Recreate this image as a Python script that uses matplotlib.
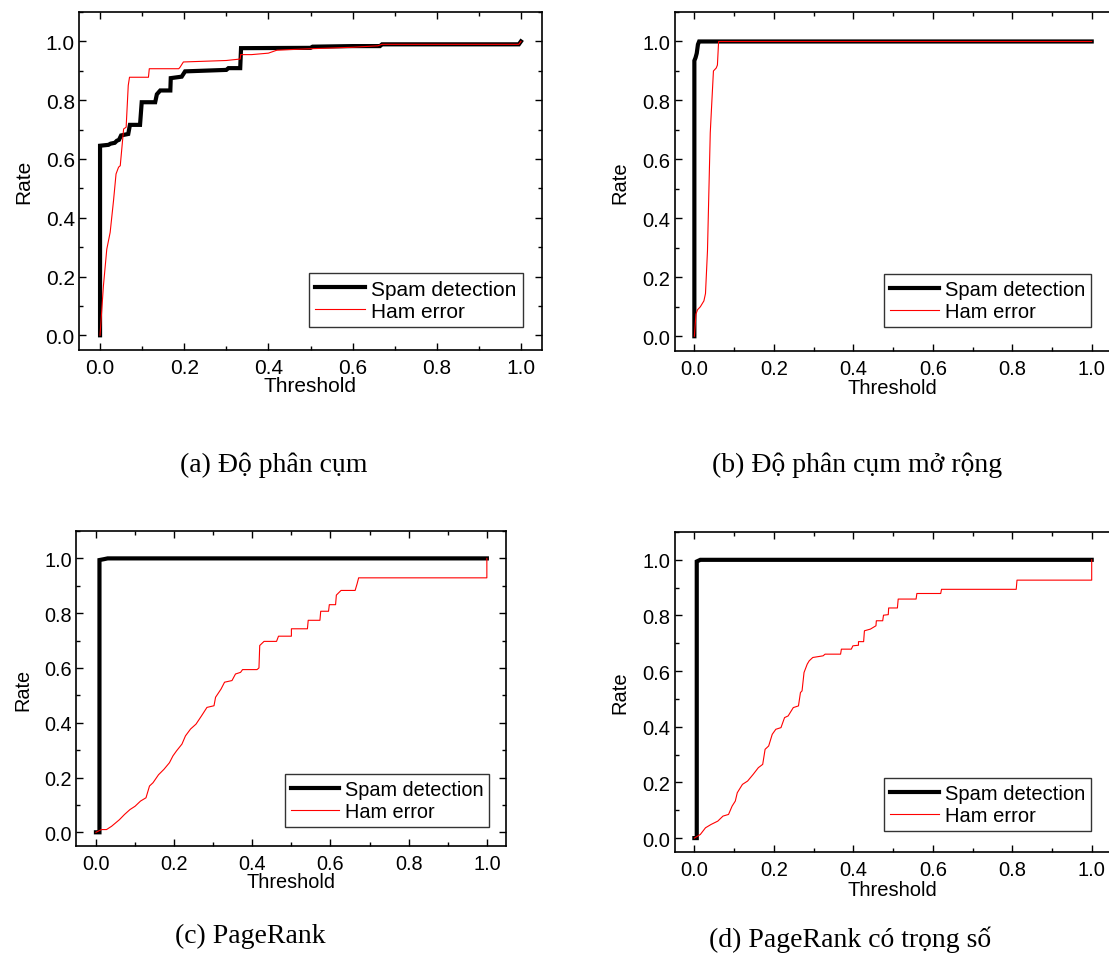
import numpy as np
import matplotlib
matplotlib.use('Agg')
import matplotlib.pyplot as plt
from matplotlib.ticker import MultipleLocator

plt.rcParams['font.family'] = ['Liberation Sans', 'DejaVu Sans']

# (a) Do phan cum
a_spam_x = [0.0, 0.0, 0.02, 0.025, 0.035, 0.04, 0.045, 0.05, 0.06, 0.067, 0.071, 0.095, 0.099, 0.131,
            0.135, 0.143, 0.167, 0.168, 0.194, 0.202, 0.30, 0.305, 0.333, 0.335, 0.5, 0.505, 0.6, 0.665,
            0.67, 0.995, 1.0]
a_spam_y = [0.0, 0.645, 0.648, 0.652, 0.655, 0.662, 0.665, 0.68, 0.683, 0.685, 0.716, 0.716, 0.793, 0.793,
            0.82, 0.833, 0.833, 0.875, 0.88, 0.898, 0.903, 0.909, 0.909, 0.977, 0.978, 0.982, 0.984, 0.984,
            0.99, 0.99, 1.0]
a_ham_x = [0.0, 0.008, 0.016, 0.024, 0.032, 0.038, 0.044, 0.048, 0.056, 0.062, 0.067, 0.07, 0.115, 0.117,
           0.187, 0.19, 0.198, 0.30, 0.333, 0.334, 0.36, 0.40, 0.42, 0.45, 0.5, 0.6, 0.66, 0.67, 0.995, 1.0]
a_ham_y = [0.0, 0.168, 0.293, 0.35, 0.458, 0.549, 0.572, 0.577, 0.702, 0.708, 0.85, 0.878, 0.878, 0.907,
           0.907, 0.912, 0.93, 0.935, 0.94, 0.955, 0.955, 0.96, 0.97, 0.972, 0.975, 0.98, 0.985, 0.99, 0.99, 1.0]

# (b) Do phan cum mo rong
b_spam_x = [0.0, 0.0, 0.003, 0.006, 0.009, 0.012, 1.0]
b_spam_y = [0.0, 0.935, 0.945, 0.96, 0.99, 1.0, 1.0]
b_ham_x = [0.0, 0.004, 0.008, 0.015, 0.024, 0.028, 0.033, 0.04, 0.043, 0.048, 0.055, 0.058, 0.061, 1.0]
b_ham_y = [0.0, 0.075, 0.09, 0.1, 0.12, 0.145, 0.29, 0.69, 0.77, 0.9, 0.91, 0.92, 1.0, 1.0]

# (c) PageRank
c_spam_x = [0.0, 0.009, 0.009, 0.02, 0.03, 1.0]
c_spam_y = [0.0, 0.0, 0.994, 0.997, 1.0, 1.0]
c_ham_x = [0.0, 0.014, 0.027, 0.04, 0.06, 0.073, 0.087, 0.1, 0.114, 0.128, 0.137, 0.146, 0.16, 0.174,
           0.188, 0.197, 0.206, 0.22, 0.229, 0.242, 0.256, 0.27, 0.284, 0.302, 0.306, 0.32, 0.329, 0.348,
           0.357, 0.37, 0.375, 0.412, 0.417, 0.419, 0.43, 0.462, 0.467, 0.5, 0.5, 0.541, 0.543, 0.573,
           0.575, 0.595, 0.597, 0.613, 0.615, 0.627, 0.663, 0.668, 0.672, 1.0, 1.0]
c_ham_y = [0.0, 0.01, 0.01, 0.022, 0.046, 0.065, 0.083, 0.095, 0.114, 0.126, 0.169, 0.181, 0.21, 0.23,
           0.254, 0.279, 0.297, 0.322, 0.352, 0.377, 0.395, 0.425, 0.456, 0.462, 0.493, 0.523, 0.548, 0.554,
           0.578, 0.584, 0.594, 0.594, 0.6, 0.682, 0.697, 0.697, 0.716, 0.716, 0.743, 0.743, 0.774, 0.774,
           0.807, 0.807, 0.831, 0.831, 0.866, 0.883, 0.883, 0.907, 0.929, 0.929, 1.0]

# (d) PageRank co trong so
d_spam_x = [0.0, 0.006, 0.006, 0.015, 1.0]
d_spam_y = [0.0, 0.0, 0.994, 1.0, 1.0]
d_ham_x = [0.0, 0.015, 0.028, 0.042, 0.059, 0.072, 0.086, 0.095, 0.103, 0.108, 0.121, 0.134, 0.148, 0.161,
           0.172, 0.178, 0.187, 0.196, 0.205, 0.218, 0.227, 0.236, 0.249, 0.262, 0.267, 0.271, 0.276, 0.284,
           0.289, 0.298, 0.324, 0.329, 0.368, 0.37, 0.395, 0.399, 0.413, 0.413, 0.426, 0.428, 0.443, 0.457,
           0.458, 0.474, 0.476, 0.488, 0.489, 0.511, 0.513, 0.558, 0.56, 0.62, 0.622, 0.81, 0.812, 1.0, 1.0]
d_ham_y = [0.0, 0.013, 0.037, 0.049, 0.061, 0.079, 0.085, 0.115, 0.133, 0.163, 0.193, 0.205, 0.229, 0.253,
           0.265, 0.319, 0.331, 0.373, 0.391, 0.397, 0.433, 0.439, 0.469, 0.475, 0.523, 0.529, 0.595, 0.625,
           0.637, 0.649, 0.655, 0.661, 0.661, 0.679, 0.679, 0.691, 0.693, 0.706, 0.706, 0.745, 0.751, 0.763,
           0.781, 0.781, 0.801, 0.803, 0.827, 0.827, 0.859, 0.859, 0.879, 0.879, 0.894, 0.894, 0.927, 0.927, 1.0]

# right-hand panels run off the page edge, so their x range is a bit wider
panels = [
    ([79/1109, 1-351/978, 463/1109, 338/978], 1.05, a_spam_x, a_spam_y, a_ham_x, a_ham_y, 15, (0.959, 0.068), None),
    ([674.5/1109, 1-352/978, 447/1109, 339/978], 1.075, b_spam_x, b_spam_y, b_ham_x, b_ham_y, 14.5, (0.932, 0.071), (0.487, -0.08)),
    ([76.4/1109, 1-847/978, 430/1109, 315/978], 1.05, c_spam_x, c_spam_y, c_ham_x, c_ham_y, 14.3, (0.96, 0.06), None),
    ([674.5/1109, 1-853/978, 447/1109, 320/978], 1.075, d_spam_x, d_spam_y, d_ham_x, d_ham_y, 14.5, (0.932, 0.066), (0.487, -0.088)),
]

captions = [(274, 465, '(a) Độ phân cụm'), (857, 465, '(b) Độ phân cụm mở rộng'),
            (250, 936, '(c) PageRank'), (850, 940, '(d) PageRank có trọng số')]

fig = plt.figure(figsize=(11.09, 9.78), dpi=100)

for rect, xmax, sx, sy, hx, hy, fs, anchor, xlab in panels:
    ax = fig.add_axes(rect)
    ax.plot(sx, sy, color='black', lw=3, label='Spam detection', solid_joinstyle='miter')
    ax.plot(hx, hy, color='red', lw=0.8, label='Ham error')
    ax.set_xlim(-0.05, xmax)
    ax.set_ylim(-0.05, 1.1)
    ax.xaxis.set_major_locator(MultipleLocator(0.2))
    ax.xaxis.set_minor_locator(MultipleLocator(0.1))
    ax.yaxis.set_major_locator(MultipleLocator(0.2))
    ax.yaxis.set_minor_locator(MultipleLocator(0.1))
    ax.xaxis.set_major_formatter(plt.FormatStrFormatter('%.1f'))
    ax.yaxis.set_major_formatter(plt.FormatStrFormatter('%.1f'))
    ax.tick_params(which='both', direction='in', top=True, right=True, labelsize=fs, width=1)
    ax.tick_params(which='major', length=5)
    ax.tick_params(which='minor', length=3)
    ax.tick_params(axis='x', pad=6)
    ax.tick_params(axis='y', pad=3)
    ax.set_xlabel('Threshold', fontsize=fs, labelpad=-1)
    if xlab:
        ax.xaxis.set_label_coords(*xlab)
    ax.set_ylabel('Rate', fontsize=fs, labelpad=9)
    for s in ax.spines.values():
        s.set_linewidth(1.2)
    leg = ax.legend(loc='lower right', bbox_to_anchor=anchor, borderaxespad=0, fontsize=fs,
                    fancybox=False, edgecolor='#333333', framealpha=1, handlelength=2.4,
                    handletextpad=0.3, labelspacing=0.15, borderpad=0.3)
    leg.get_frame().set_linewidth(1.0)

for cx, cy, txt in captions:
    fig.text(cx/1109, 1-cy/978, txt, ha='center', va='center', fontsize=20, family='Liberation Serif')

fig.savefig('out.png', dpi=100)
